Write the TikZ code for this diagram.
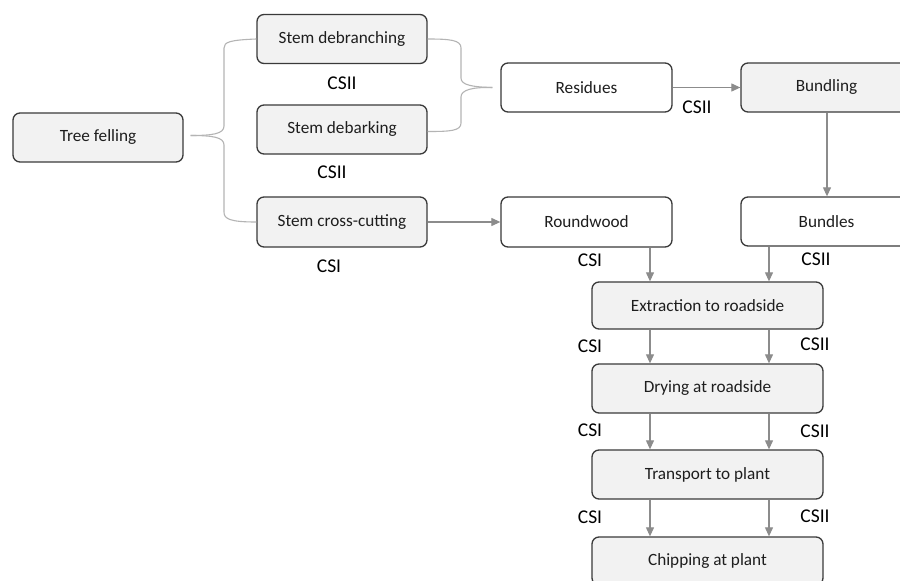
\documentclass[tikz,border=0pt]{standalone}
\usepackage{fontspec}
\setmainfont{Carlito}
\usetikzlibrary{arrows.meta,calc}
\definecolor{boxfill}{HTML}{F2F2F2}
\definecolor{boxline}{HTML}{3A3A3A}
\definecolor{arrgray}{HTML}{8C8C8C}
\definecolor{bracegray}{HTML}{B4B4B4}
\definecolor{txt}{HTML}{1E1E1E}
\tikzset{
  procbox/.style={draw=boxline, line width=1.3pt, rounded corners=7pt, fill=boxfill,
    minimum width=170pt, minimum height=49pt, inner sep=0pt, text=txt, font=\fontsize{17.2}{20}\selectfont},
  prodbox/.style={procbox, fill=white},
  widebox/.style={procbox, minimum width=231pt},
  arr/.style={draw=arrgray, line width=1.1pt, -{Triangle[length=9pt,width=8pt]}},
  bracel/.style={draw=bracegray, line width=1.1pt},
  cslabel/.style={font=\fontsize{19.5}{22}\selectfont, inner sep=0pt}
}
\begin{document}
\begin{tikzpicture}[x=1pt,y=-1pt]
\useasboundingbox (0,0) rectangle (900,581);
\clip (0,0) rectangle (900,581);
\fill[white] (0,0) rectangle (900,581);
% boxes
\node[procbox] (tree) at (98,137.5) {Tree felling};
\node[procbox] (deb) at (342,39) {Stem debranching};
\node[procbox] (dbk) at (342,129.5) {Stem debarking};
\node[procbox, minimum height=50pt] (cc) at (342,222) {Stem cross-cutting};
\node[prodbox, minimum width=171pt] (res) at (586.5,87.5) {Residues};
\node[procbox, minimum width=171pt] (bund) at (826.5,87.5) {Bundling};
\node[prodbox, minimum width=171pt, minimum height=50pt] (round) at (586.5,222) {Roundwood};
\node[prodbox, minimum width=171pt] (bundles) at (826.5,221.5) {Bundles};
\node[widebox, minimum height=47pt] (ext) at (707.5,305.5) {Extraction to roadside};
\node[widebox] (dry) at (707.5,388.5) {Drying at roadside};
\node[widebox] (trans) at (707.5,474.5) {Transport to plant};
\node[widebox, minimum height=48pt] (chip) at (707.5,561) {Chipping at plant};
% column coordinates
\coordinate (cL) at (650,0);
\coordinate (cR) at (769,0);
\coordinate (cB) at (827,0);
% braces
\draw[bracel] ($(tree.east)+(7,-2)$) .. controls (212,135.5) and (224,134) .. (224,126)
  -- (224,48) .. controls (224,42) and (230,40) .. (deb.west);
\draw[bracel] ($(tree.east)+(7,-2)$) .. controls (212,135.5) and (224,137) .. (224,145)
  -- (224,212) .. controls (224,219) and (230,222) .. (cc.west);
\draw[bracel] (deb.east) .. controls (450,39) and (461,40) .. (461,48)
  -- (461,78) .. controls (461,85) and (472,87) .. ($(res.west)+(-8,0)$);
\draw[bracel] ($(dbk.east)+(0,2)$) .. controls (450,131.5) and (461,131) .. (461,123)
  -- (461,97) .. controls (461,90) and (472,87) .. ($(res.west)+(-8,0)$);
% arrows
\draw[arr] (cc.east) -- (round.west);
\draw[arr] (res.east) -- (bund.west);
\draw[arr] (bund.south -| cB) -- (bundles.north -| cB);
\draw[arr] (round.south -| cL) -- (ext.north -| cL);
\draw[arr] (bundles.south -| cR) -- (ext.north -| cR);
\draw[arr] (ext.south -| cL) -- (dry.north -| cL);
\draw[arr] (ext.south -| cR) -- (dry.north -| cR);
\draw[arr] (dry.south -| cL) -- (trans.north -| cL);
\draw[arr] (dry.south -| cR) -- (trans.north -| cR);
\draw[arr] (trans.south -| cL) -- (chip.north -| cL);
\draw[arr] (trans.south -| cR) -- (chip.north -| cR);
% labels
\node[cslabel] (l1) at (342,83) {CSII};
\node[cslabel] (l2) at (332,172) {CSII};
\node[cslabel] (l3) at (329,266) {CSI};
\node[cslabel] (l4) at (697,107) {CSII};
\node[cslabel] (l5) at (590,260) {CSI};
\node[cslabel] (l6) at (816,259) {CSII};
\node[cslabel] (l7) at (590,346) {CSI};
\node[cslabel] (l8) at (815,344) {CSII};
\node[cslabel] (l9) at (590,430) {CSI};
\node[cslabel] (l10) at (815,431) {CSII};
\node[cslabel] (l11) at (590,517) {CSI};
\node[cslabel] (l12) at (815,516) {CSII};
\end{tikzpicture}
\end{document}
